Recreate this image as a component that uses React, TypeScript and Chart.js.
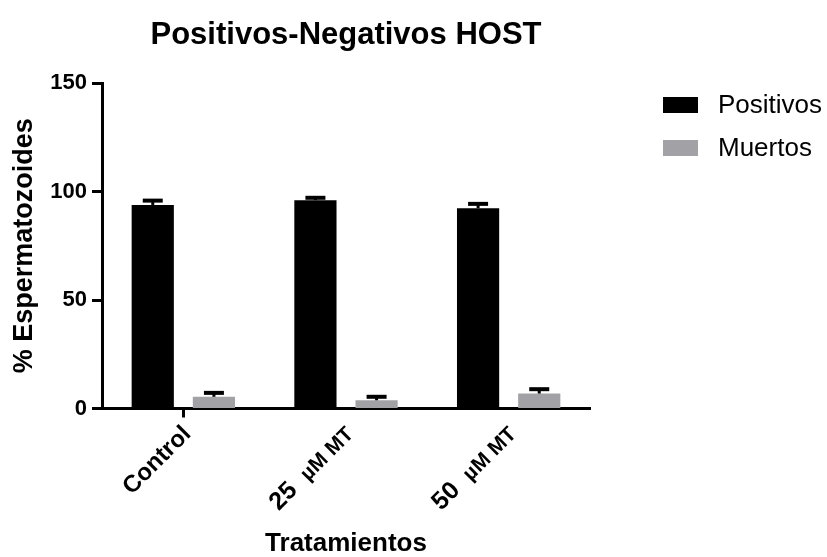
import React, { useEffect, useRef } from "react";
import { Chart, registerables } from "chart.js";

Chart.register(...registerables);

// ---- data ----
const categories = ["Control", "25  µM MT", "50  µM MT"];
const seriesNames = ["Positivos", "Muertos"];
const positivos = [93.8, 96.0, 92.3];
const positivosErr = [2.0, 1.1, 2.0];
const muertos = [5.4, 3.8, 6.9];
const muertosErr = [1.8, 1.6, 2.0];
const yMin = 0;
const yMax = 150;
const yStep = 50;

const chartTitle = "Positivos-Negativos HOST";
const xTitle = "Tratamientos";
const yTitle = "% Espermatozoides";

const FONT = '"Liberation Sans", Arial, Helvetica, sans-serif';
const BLACK = "#000000";
const GRAY = "#a2a2a6";

const errorBarsPlugin = {
  id: "errorBars",
  afterDatasetsDraw(chart: any) {
    const { ctx } = chart;
    const yScale = chart.scales.y;
    chart.data.datasets.forEach((ds: any, di: number) => {
      const meta = chart.getDatasetMeta(di);
      meta.data.forEach((bar: any, i: number) => {
        const top = yScale.getPixelForValue(ds.data[i] + ds.errors[i]);
        ctx.save();
        ctx.strokeStyle = BLACK;
        ctx.lineWidth = 3;
        ctx.beginPath();
        ctx.moveTo(bar.x, bar.y);
        ctx.lineTo(bar.x, top);
        ctx.stroke();
        ctx.lineWidth = 4;
        ctx.beginPath();
        ctx.moveTo(bar.x - 10, top);
        ctx.lineTo(bar.x + 10, top);
        ctx.stroke();
        ctx.restore();
      });
    });
  },
};

// rotated category labels; a leading number is drawn larger than its unit
const xLabelsPlugin = {
  id: "xLabels",
  afterDraw(chart: any) {
    const { ctx } = chart;
    const xs = chart.scales.x;
    const labels: string[] = chart.data.labels;
    labels.forEach((label, i) => {
      const x = xs.getPixelForTick(i);
      const y = xs.top;
      const m = label.match(/^(\d+\s+)(.*)$/);
      const parts = m
        ? [
            { text: m[1], size: 25 },
            { text: m[2], size: 21 },
          ]
        : [{ text: label, size: 24 }];
      ctx.save();
      ctx.translate(x + 3, y + 21);
      ctx.rotate(-Math.PI / 4);
      ctx.fillStyle = BLACK;
      ctx.textBaseline = "alphabetic";
      ctx.textAlign = "right";
      let cursor = 0;
      for (let p = parts.length - 1; p >= 0; p--) {
        ctx.font = `bold ${parts[p].size}px ${FONT}`;
        ctx.fillText(parts[p].text, cursor, 8);
        cursor -= ctx.measureText(parts[p].text).width;
      }
      ctx.restore();
    });
  },
};

const legendPlugin = {
  id: "sideLegend",
  afterDraw(chart: any) {
    const { ctx, chartArea } = chart;
    const x0 = chartArea.right + 73;
    chart.data.datasets.forEach((ds: any, i: number) => {
      const cy = chartArea.top + 22 + i * 43;
      ctx.save();
      ctx.fillStyle = ds.backgroundColor;
      ctx.fillRect(x0, cy - 8, 35, 16);
      ctx.fillStyle = BLACK;
      ctx.font = `26px ${FONT}`;
      ctx.textBaseline = "middle";
      ctx.textAlign = "left";
      ctx.fillText(ds.label, x0 + 55, cy + 1);
      ctx.restore();
    });
  },
};

export default function App() {
  const canvasRef = useRef<HTMLCanvasElement | null>(null);

  useEffect(() => {
    if (!canvasRef.current) return;
    const chart = new Chart(canvasRef.current, {
      type: "bar",
      data: {
        labels: categories,
        datasets: [
          {
            label: seriesNames[0],
            data: positivos,
            errors: positivosErr,
            backgroundColor: BLACK,
            categoryPercentage: 0.752,
            barPercentage: 0.69,
          } as any,
          {
            label: seriesNames[1],
            data: muertos,
            errors: muertosErr,
            backgroundColor: GRAY,
            categoryPercentage: 0.752,
            barPercentage: 0.69,
          } as any,
        ],
      },
      options: {
        responsive: false,
        animation: false,
        devicePixelRatio: 1,
        layout: { padding: { left: 0, right: 237, top: 0, bottom: 0 } },
        plugins: {
          legend: { display: false },
          tooltip: { enabled: false },
          title: {
            display: true,
            text: chartTitle,
            fullSize: false,
            color: BLACK,
            font: { family: FONT, size: 31, weight: "bold", lineHeight: 1 },
            padding: { top: 20, bottom: 32 },
          },
        },
        scales: {
          x: {
            type: "category",
            offset: true,
            afterFit(scale: any) {
              scale.height = 148.5;
            },
            border: { display: true, color: BLACK, width: 3 },
            grid: {
              display: true,
              offset: false,
              drawOnChartArea: false,
              drawTicks: true,
              tickLength: 9,
              tickWidth: 3,
              tickColor: (ctx: any) => (ctx.index === 0 ? BLACK : "rgba(0,0,0,0)"),
            },
            ticks: {
              display: false,
              autoSkip: false,
            },
            title: {
              display: true,
              text: xTitle,
              color: BLACK,
              font: { family: FONT, size: 26, weight: "bold", lineHeight: 1 },
              padding: { top: 0, bottom: 0 },
            },
          },
          y: {
            min: yMin,
            max: yMax,
            afterFit(scale: any) {
              scale.width = 102;
            },
            border: { display: true, color: BLACK, width: 3 },
            grid: {
              display: true,
              drawOnChartArea: false,
              drawTicks: true,
              tickLength: 10,
              tickWidth: 3,
              tickColor: BLACK,
            },
            ticks: {
              stepSize: yStep,
              color: BLACK,
              padding: 5,
              font: { family: FONT, size: 22, weight: "bold" },
            },
            title: {
              display: true,
              text: yTitle,
              color: BLACK,
              font: { family: FONT, size: 27, weight: "bold", lineHeight: 1 },
              padding: { top: 11, bottom: 0 },
            },
          },
        },
      },
      plugins: [errorBarsPlugin, xLabelsPlugin, legendPlugin],
    } as any);
    return () => chart.destroy();
  }, []);

  return (
    <div style={{ position: "fixed", left: 0, top: 0, width: 827, height: 557, background: "#fff" }}>
      <canvas ref={canvasRef} width={827} height={557} style={{ width: 827, height: 557 }} />
    </div>
  );
}
